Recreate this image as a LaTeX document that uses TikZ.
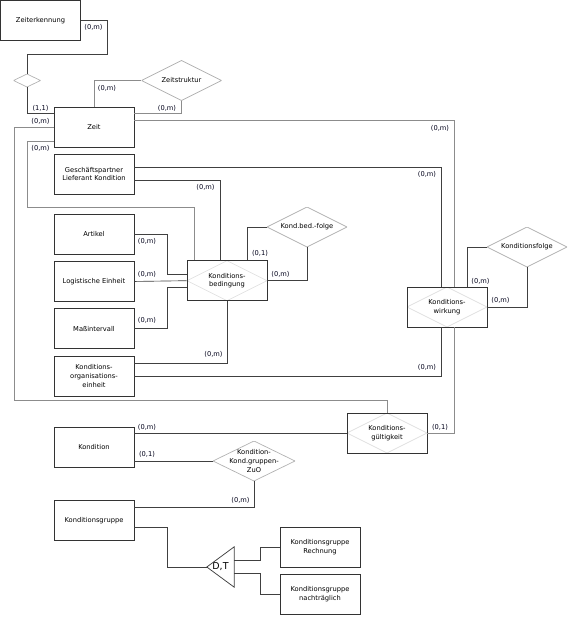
\documentclass[tikz,border=0pt]{standalone}
\usepackage{fontspec}
\setmainfont{DejaVu Sans}
\usetikzlibrary{positioning}
\newcommand{\erfont}{\fontsize{6.7}{8.8}\selectfont}
\tikzset{
  entity/.style={draw=black!80, line width=0.75pt, minimum width=80pt,
    minimum height=40pt, inner sep=0pt, align=center, font=\erfont},
  rel diamond/.style={
    path picture={
      \draw[#1, line width=0.7pt] (path picture bounding box.north)
        -- (path picture bounding box.east) -- (path picture bounding box.south)
        -- (path picture bounding box.west) -- cycle;
    },
  },
  relation/.style={rel diamond=black!30, minimum width=80pt, minimum height=40pt,
    inner sep=0pt, align=center, font=\erfont},
  assoc/.style={entity, rel diamond=black!12},
  card/.style={inner sep=0pt, font=\erfont, text=black!90!blue},
  conn/.style={draw=black!75, line width=0.65pt},
  conn gray/.style={draw=black!45, line width=0.75pt},
}

\begin{document}
\begin{tikzpicture}[x=1pt, y=-1pt]
  \useasboundingbox (0,0) rectangle (573,618);

  % Define nodes
  \node[entity] (zeiterk) at (40.5,20.5) {Zeiterkennung};
  \node[entity] (zeit) at (94,127) {Zeit};
  \node[entity] (gpl) at (94,174) {Geschäftspartner\\Lieferant Kondition};
  \node[entity] (artikel) at (94,234) {Artikel};
  \node[entity, below=6.7pt of artikel] (logist) {Logistische Einheit};
  \node[entity, below=6.3pt of logist] (massint) {Maßintervall};
  \node[entity, below=7pt of massint] (korg) {Konditions-\\organisations-\\einheit};
  \node[entity] (kondition) at (94,447) {Kondition};
  \node[entity] (kgruppe) at (94,520.7) {Konditionsgruppe};
  \node[entity] (krech) at (320,547) {Konditionsgruppe\\Rechnung};
  \node[entity, below=6.7pt of krech] (knacht) {Konditionsgruppe\\nachträglich};

  \node[relation, minimum width=27pt, minimum height=13pt] (zk) at (27,80.5) {};
  \node[relation] (zeitstr) at (181.5,80.5) {Zeitstruktur};
  \node[assoc] (kbed) at (227,280.7) {Konditions-\\bedingung};
  \node[relation] (kbfolge) at (307,227) {Kond.bed.-folge};
  \node[assoc] (kwirk) at (447,307) {Konditions-\\wirkung};
  \node[relation] (kfolge) at (527,247) {Konditionsfolge};
  \node[assoc] (kgueltig) at (387,433) {Konditions-\\gültigkeit};
  \node[relation, minimum width=82pt] (kzuo) at (254,461) {Kondition-\\Kond.gruppen-\\ZuO};

  \node[inner sep=0pt, minimum width=27pt, minimum height=40pt,
    font=\fontsize{9.5}{11}\selectfont] (dt) at (220.5,567) {D,T};
  \draw[black!75, line width=0.75pt] (dt.west) -- (dt.north east) -- (dt.south east) -- cycle;

  % Connect nodes
  \draw[conn] (zeiterk.east) -| (107,54) -| (zk.north);
  \draw[conn] (zk.south) |- ([yshift=14pt]zeit.west);
  \draw[conn gray] (zeit.north) |- (zeitstr.west);
  \draw[conn gray] (zeitstr.south) |- ([yshift=14pt]zeit.east);
  \draw[conn gray] ([yshift=7pt]zeit.east) -| ([xshift=7pt]kwirk.north);
  \draw[conn gray] (zeit.west) -| (14,400) -| (kgueltig.north);
  \draw[conn gray] ([yshift=-14pt]zeit.west) -| (27,207) -| ([xshift=-33pt]kbed.north);

  \draw[conn] ([yshift=7pt]gpl.east) -| ([xshift=-6pt]kwirk.north);
  \draw[conn] ([yshift=-6.7pt]gpl.east) -| ([xshift=-7pt]kbed.north);

  \draw[conn] (artikel.east) -| (167,274) -- ([yshift=6.7pt]kbed.west);
  \draw[conn] (logist.east) -- (kbed.west);
  \draw[conn] (massint.east) -| (167,287) -- ([yshift=-6.3pt]kbed.west);
  \draw[conn] (kbed.south) |- ([yshift=13.3pt]korg.east);
  \draw[conn] (korg.east) -| ([xshift=-6pt]kwirk.south);

  \draw[conn] ([xshift=20pt]kbed.north) |- (kbfolge.west);
  \draw[conn] (kbfolge.south) |- (kbed.east);
  \draw[conn] ([xshift=20pt]kwirk.north) |- (kfolge.west);
  \draw[conn] (kfolge.south) |- (kwirk.east);

  \draw[conn gray] (kgueltig.east) -| ([xshift=7pt]kwirk.south);
  \draw[conn] (kondition.east |- kgueltig.west) -- (kgueltig.west);
  \draw[conn] (kondition.east |- kzuo.west) -- (kzuo.west);
  \draw[conn] (kzuo.south) |- ([yshift=13.7pt]kgruppe.east);

  \draw[conn] ([yshift=-6.3pt]kgruppe.east) -- ++(33,0) |- (dt.west);
  \draw[conn] ([yshift=6.5pt]dt.east) -- ++(26,0) |- (krech.west);
  \draw[conn] ([yshift=-6.5pt]dt.east) -- ++(26,0) |- (knacht.west);

  % Cardinalities
  \node[card] (c_zeiterk) at (93.5,27) {(0,m)};
  \node[card] (c_zk) at (40.5,108) {(1,1)};
  \node[card] (c_zeitstr_a) at (107,88) {(0,m)};
  \node[card] (c_zeitstr_b) at (167,108) {(0,m)};
  \node[card] (c_zeit_kg) at (40.5,121) {(0,m)};
  \node[card] (c_zeit_kbed) at (40.5,148) {(0,m)};
  \node[card] (c_zeit_kwirk) at (440,128) {(0,m)};
  \node[card] (c_gpl_kwirk) at (427,174) {(0,m)};
  \node[card] (c_gpl_kbed) at (205.5,187) {(0,m)};
  \node[card] (c_artikel) at (147,241.7) {(0,m)};
  \node[card] (c_logist) at (147,274) {(0,m)};
  \node[card] (c_massint) at (147,320.7) {(0,m)};
  \node[card] (c_korg_kbed) at (213.5,354) {(0,m)};
  \node[card] (c_korg_kwirk) at (427,367) {(0,m)};
  \node[card] (c_kbfolge_a) at (260,253) {(0,1)};
  \node[card] (c_kbfolge_b) at (280.5,274) {(0,m)};
  \node[card] (c_kfolge_a) at (480.5,281) {(0,m)};
  \node[card] (c_kfolge_b) at (500.5,300.7) {(0,m)};
  \node[card] (c_kgueltig) at (440,427.7) {(0,1)};
  \node[card] (c_kond_kg) at (147,427) {(0,m)};
  \node[card] (c_kond_kzuo) at (147,454) {(0,1)};
  \node[card] (c_kgruppe) at (240.5,500.7) {(0,m)};

\end{tikzpicture}
\end{document}
